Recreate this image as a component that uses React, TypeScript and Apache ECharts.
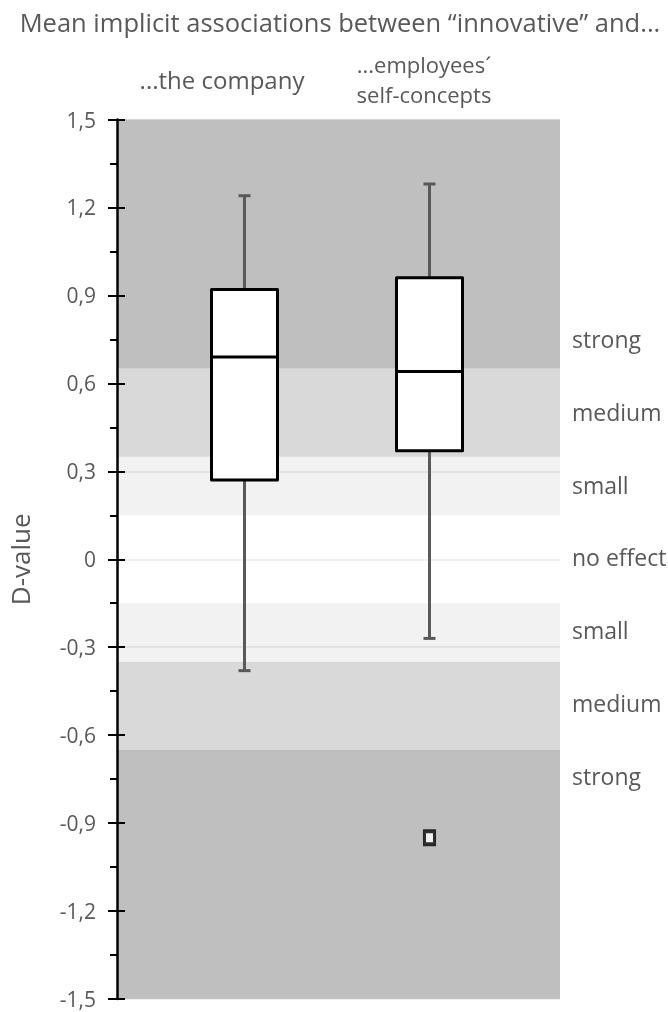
import React, { useEffect, useRef } from "react";
import * as echarts from "echarts";

// ---- data ----
const titleText = "Mean implicit associations between \u201cinnovative\u201d and...";
const categories = ["...the company", "...employees\u00b4\nself-concepts"];
const whiskerLow = [-0.38, -0.27];
const quartile1 = [0.27, 0.37];
const medians = [0.69, 0.64];
const quartile3 = [0.92, 0.96];
const whiskerHigh = [1.24, 1.28];
const outlierCategory = [1];
const outlierValue = [-0.95];
const yMin = -1.5;
const yMax = 1.5;
const yInterval = 0.3;
const axisName = "D-value";
// effect size bands
const bandLow = [0.65, 0.35, 0.15, -0.35, -0.65];
const bandHigh = [1.5, 0.65, 0.35, -0.15, -0.35];
const bandLevel = ["strong", "medium", "small", "small", "medium"];
const bandLowest = [-1.5];
const bandLowestHigh = [-0.65];
const effectLabels = ["strong", "medium", "small", "no effect", "small", "medium", "strong"];

const levelColor: Record<string, string> = {
  strong: "#bfbfbf",
  medium: "#d9d9d9",
  small: "rgba(0,0,0,0.05)",
};

const FONT = "'Open Sans', 'Noto Sans', sans-serif";
const TEXT = "#595959";

function fmt(v: number) {
  const r = Math.round(v * 10) / 10;
  if (r === 0) return "0";
  return r.toFixed(1).replace(".", ",");
}

export default function App() {
  const ref = useRef<HTMLDivElement>(null);
  useEffect(() => {
    if (!ref.current) return;
    const chart = echarts.init(ref.current, undefined, { renderer: "svg" });

    const bands: any[] = bandLow.map((lo, i) => [
      { yAxis: lo, itemStyle: { color: levelColor[bandLevel[i]] } },
      { yAxis: bandHigh[i] },
    ]);
    bands.push([
      { yAxis: bandLowest[0], itemStyle: { color: levelColor.strong } },
      { yAxis: bandLowestHigh[0] },
    ]);

    const boxData = categories.map((_, i) => [
      i,
      whiskerLow[i],
      quartile1[i],
      medians[i],
      quartile3[i],
      whiskerHigh[i],
    ]);

    const catLines1 = categories[1].split("\n");
    const labelStartY = 339;
    const labelStep = 72.8;

    const option: any = {
      animation: false,
      textStyle: { fontFamily: FONT },
      grid: [
        { left: 117, right: 108, top: 119.5, bottom: 13, outerBoundsMode: "none", containLabel: false },
        { left: 152, right: 146, top: 119.5, bottom: 13, outerBoundsMode: "none", containLabel: false },
      ],
      xAxis: [
        { type: "value", gridIndex: 0, min: 0, max: 1, show: false },
        { type: "category", gridIndex: 1, data: categories, show: false },
      ],
      yAxis: [
        {
          type: "value",
          gridIndex: 0,
          position: "left",
          z: 10,
          min: yMin,
          max: yMax,
          interval: yInterval,
          name: axisName,
          nameLocation: "middle",
          nameGap: 84,
          nameRotate: 90,
          nameTextStyle: { color: TEXT, fontSize: 26, fontFamily: FONT },
          axisLine: { show: true, lineStyle: { color: "#000", width: 2.5 } },
          axisTick: { show: true, length: 9, lineStyle: { color: "#000", width: 2 } },
          minorTick: { show: true, splitNumber: 2, length: 7, lineStyle: { color: "#000", width: 2 } },
          axisLabel: {
            color: TEXT,
            fontSize: 21,
            fontFamily: FONT,
            margin: 21,
            formatter: (v: number) => fmt(v),
          },
          splitLine: { show: false },
        },
        {
          type: "value",
          gridIndex: 0,
          position: "left",
          z: 10,
          min: yMin,
          max: yMax,
          interval: yInterval,
          axisLine: { show: false },
          axisTick: { show: true, inside: true, length: 8, lineStyle: { color: "#000", width: 2 } },
          axisLabel: { show: false },
          splitLine: { show: false },
        },
        {
          type: "value",
          gridIndex: 1,
          min: yMin,
          max: yMax,
          interval: yInterval,
          show: false,
        },
        {
          type: "value",
          gridIndex: 0,
          position: "left",
          z: 0,
          min: yMin,
          max: yMax,
          interval: yInterval,
          axisLine: { show: false },
          axisTick: { show: false },
          axisLabel: { show: false },
          splitLine: { show: true, lineStyle: { color: "#efefef", width: 2 } },
        },
      ],
      series: [
        {
          type: "line",
          xAxisIndex: 0,
          yAxisIndex: 0,
          data: [],
          silent: true,
          z: 1,
          markArea: { silent: true, data: bands },
        },
        {
          type: "custom",
          xAxisIndex: 1,
          yAxisIndex: 2,
          z: 5,
          data: boxData,
          renderItem: (params: any, api: any) => {
            const idx = api.value(0);
            const pLow = api.coord([idx, api.value(1)]);
            const pQ1 = api.coord([idx, api.value(2)]);
            const pMed = api.coord([idx, api.value(3)]);
            const pQ3 = api.coord([idx, api.value(4)]);
            const pHigh = api.coord([idx, api.value(5)]);
            const cx = pMed[0];
            const half = 33;
            const cap = 6;
            const wStyle = { stroke: "#595959", lineWidth: 3 };
            const bStyle = { stroke: "#000", lineWidth: 3, fill: "#fff", lineJoin: "round" };
            return {
              type: "group",
              children: [
                { type: "line", shape: { x1: cx, y1: pHigh[1], x2: cx, y2: pQ3[1] }, style: wStyle },
                { type: "line", shape: { x1: cx, y1: pLow[1], x2: cx, y2: pQ1[1] }, style: wStyle },
                { type: "line", shape: { x1: cx - cap, y1: pHigh[1], x2: cx + cap, y2: pHigh[1] }, style: wStyle },
                { type: "line", shape: { x1: cx - cap, y1: pLow[1], x2: cx + cap, y2: pLow[1] }, style: wStyle },
                {
                  type: "rect",
                  shape: { x: cx - half, y: pQ3[1], width: half * 2, height: pQ1[1] - pQ3[1] },
                  style: bStyle,
                },
                {
                  type: "line",
                  shape: { x1: cx - half, y1: pMed[1], x2: cx + half, y2: pMed[1] },
                  style: { stroke: "#000", lineWidth: 3 },
                },
              ],
            };
          },
        },
        {
          type: "scatter",
          xAxisIndex: 1,
          yAxisIndex: 2,
          z: 6,
          symbol: "rect",
          symbolSize: [10, 13],
          itemStyle: { color: "#fff", borderColor: "#000", borderWidth: 3.5 },
          data: outlierCategory.map((c, i) => [c, outlierValue[i]]),
        },
      ],
      graphic: [
        {
          type: "text",
          x: 340,
          y: 22,
          style: {
            text: titleText,
            fill: TEXT,
            fontSize: 25.5,
            fontFamily: FONT,
            align: "center",
            verticalAlign: "middle",
          },
        },
        {
          type: "text",
          x: 222,
          y: 79,
          style: {
            text: categories[0],
            fill: TEXT,
            fontSize: 24,
            fontFamily: FONT,
            align: "center",
            verticalAlign: "middle",
          },
        },
        ...catLines1.map((t, i) => ({
          type: "text",
          x: 424,
          y: 63.5 + i * 30,
          style: {
            text: t,
            fill: TEXT,
            fontSize: 22,
            fontFamily: FONT,
            align: "center",
            verticalAlign: "middle",
          },
        })),
        ...effectLabels.map((t, i) => ({
          type: "text",
          x: 572,
          y: labelStartY + i * labelStep,
          style: {
            text: t,
            fill: TEXT,
            fontSize: 23,
            fontFamily: FONT,
            align: "left",
            verticalAlign: "middle",
          },
        })),
      ],
    };
    chart.setOption(option);
    return () => chart.dispose();
  }, []);
  return (
    <div
      ref={ref}
      style={{ position: "fixed", left: 0, top: 0, width: 668, height: 1012 }}
    />
  );
}
